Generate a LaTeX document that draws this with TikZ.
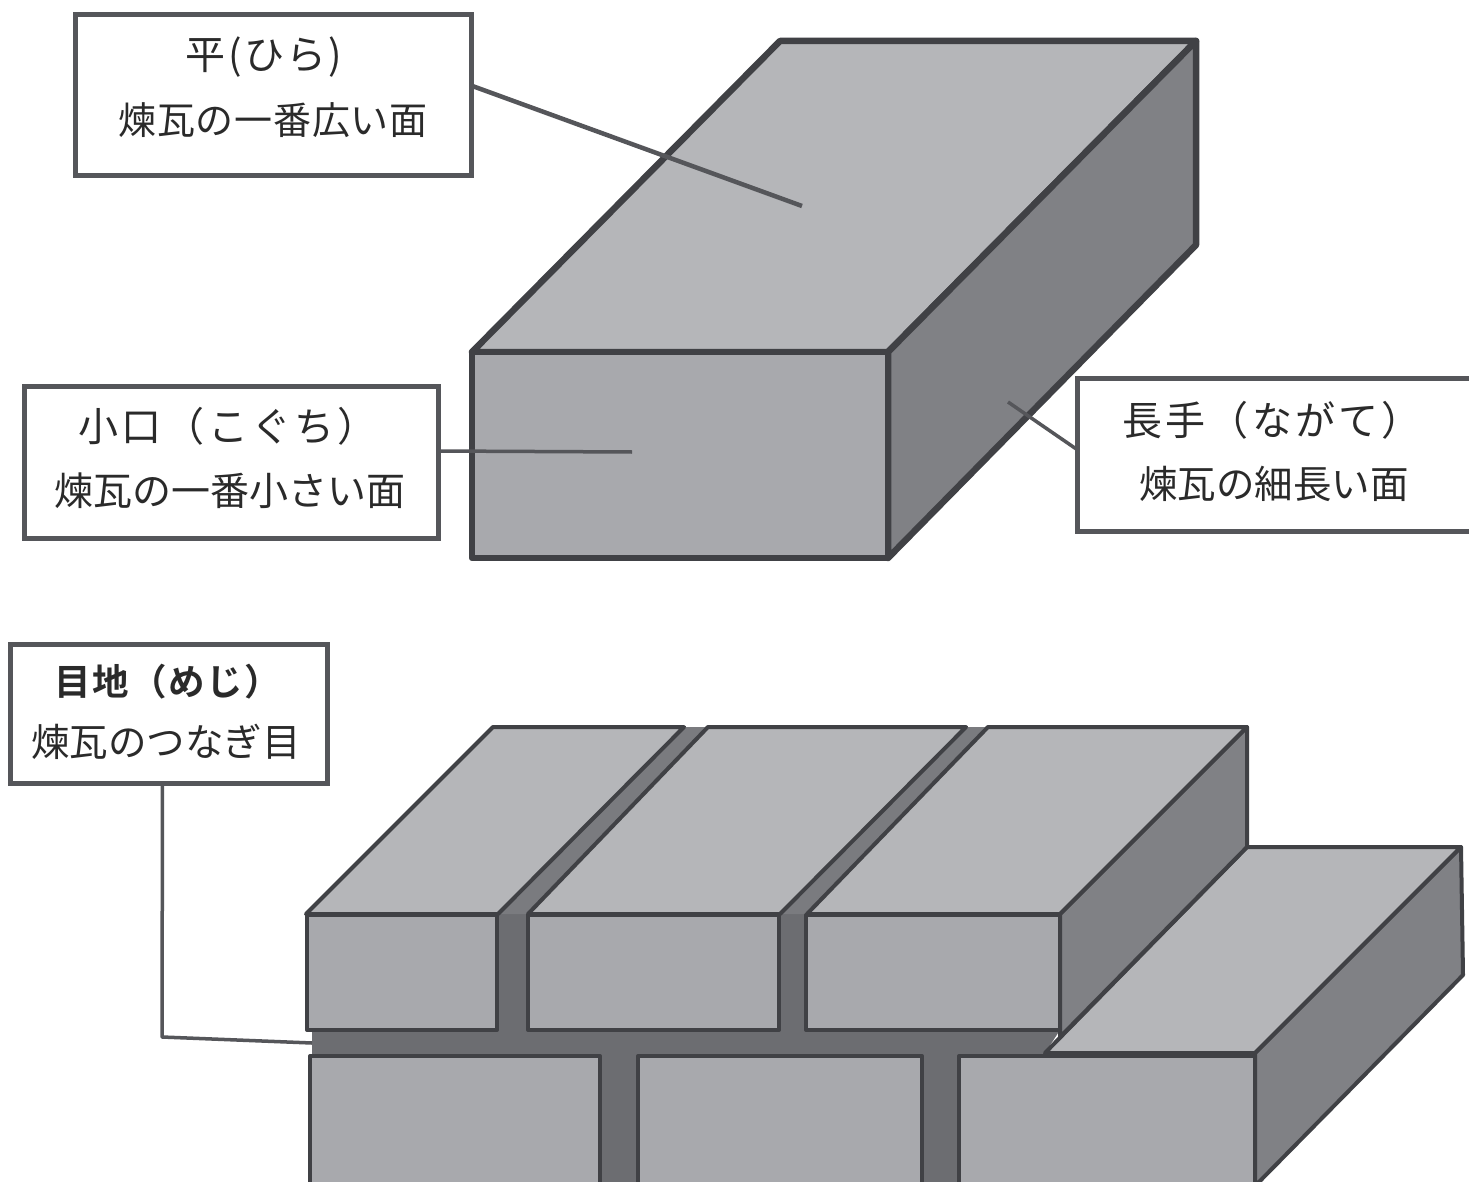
\documentclass[tikz,border=0pt]{standalone}
\usepackage{fontspec}
\setmainfont{Noto Sans CJK JP}[BoldFont={Noto Sans CJK JP Bold}]
\definecolor{topface}{HTML}{B5B6B9}
\definecolor{frontface}{HTML}{A8A9AD}
\definecolor{sideface}{HTML}{808185}
\definecolor{mortar}{HTML}{6C6D71}
\definecolor{strip}{HTML}{7A7B7F}
\definecolor{edge}{HTML}{404145}
\definecolor{boxedge}{HTML}{55565A}
\definecolor{txt}{HTML}{2A2A2A}
\tikzset{
  labelbox/.style={draw=boxedge,line width=5pt,fill=white,rectangle,inner sep=0pt,outer sep=0pt},
  labeltext/.style={text=txt,inner sep=0pt,outer sep=0pt,anchor=center},
  leader/.style={draw=boxedge,line width=4.5pt,line join=round},
  bigbrick/.style={draw=edge,line width=6.5pt,line join=round},
  smallbrick/.style={draw=edge,line width=4pt,line join=round}
}
\begin{document}
\begin{tikzpicture}[x=1pt,y=-1pt]
\useasboundingbox (0,0) rectangle (1469,1182);
\clip (0,0) rectangle (1469,1182);
\fill[white] (0,0) rectangle (1469,1182);
% upper brick
\filldraw[bigbrick,fill=topface] (472,352) -- (780,41) -- (1196,41) -- (888,352) -- cycle;
\filldraw[bigbrick,fill=sideface] (888,352) -- (1196,41) -- (1196,245) -- (888,558) -- cycle;
\filldraw[bigbrick,fill=frontface] (472,352) rectangle (888,558);
% label boxes
\node[labelbox,minimum width=396pt,minimum height=161pt] (boxhira) at (273,95.5) {};
\node[labelbox,minimum width=414pt,minimum height=152pt] (boxkoguchi) at (231,462) {};
\node[labelbox,minimum width=396pt,minimum height=153pt] (boxnagate) at (1275,454.5) {};
\node[labelbox,minimum width=317pt,minimum height=139pt] (boxmeji) at (168.5,713.5) {};
\node[labeltext,font=\fontsize{40}{44}\selectfont\addfontfeature{LetterSpace=6}] (hira1) at (264,57) {平(ひら)};
\node[labeltext,font=\fontsize{38}{42}\selectfont\addfontfeature{LetterSpace=2}] (hira2) at (273,120) {煉瓦の一番広い面};
\node[labeltext,font=\fontsize{40}{44}\selectfont\addfontfeature{LetterSpace=8}] (ko1) at (228,426) {小口（こぐち）};
\node[labeltext,font=\fontsize{39}{42}\selectfont] (ko2) at (230,491) {煉瓦の一番小さい面};
\node[labeltext,font=\fontsize{40}{44}\selectfont\addfontfeature{LetterSpace=8}] (na1) at (1272,420) {長手（ながて）};
\node[labeltext,font=\fontsize{38.5}{42}\selectfont] (na2) at (1274,484) {煉瓦の細長い面};
\node[labeltext,font=\fontsize{36.5}{40}\selectfont\bfseries\addfontfeature{LetterSpace=4}] (me1) at (168,682) {目地（めじ）};
\node[labeltext,font=\fontsize{38.5}{42}\selectfont] (me2) at (166,742) {煉瓦のつなぎ目};
% lower wall: mortar
\fill[mortar] (312,1030) rectangle (1046,1055);
\fill[mortar] (1040,1030) -- (1060,1030) -- (1045,1053) -- (1040,1053) -- cycle;
\fill[mortar] (497,914) rectangle (528,1032);
\fill[mortar] (779,914) rectangle (807,1032);
\fill[mortar] (600,1050) rectangle (638,1190);
\fill[mortar] (922,1050) rectangle (959,1190);
\fill[strip] (498,914) -- (684,727) -- (708,727) -- (528,914) -- cycle;
\fill[strip] (780,914) -- (966,727) -- (988,727) -- (807,914) -- cycle;
% lower right brick, behind
\filldraw[smallbrick,fill=sideface] (1255,1053) -- (1461,847) -- (1463,975) -- (1255,1186) -- cycle;
\filldraw[smallbrick,fill=topface] (1045,1053) -- (1247,847) -- (1461,847) -- (1255,1053) -- cycle;
% top course
\filldraw[smallbrick,fill=topface] (306,914) -- (493,727) -- (684,727) -- (498,914) -- cycle;
\filldraw[smallbrick,fill=topface] (528,914) -- (708,727) -- (966,727) -- (780,914) -- cycle;
\filldraw[smallbrick,fill=sideface] (1060,914) -- (1247,727) -- (1247,847) -- (1060,1037) -- cycle;
\filldraw[smallbrick,fill=topface] (807,914) -- (988,727) -- (1247,727) -- (1060,914) -- cycle;
\filldraw[smallbrick,fill=frontface] (307,915) rectangle (497,1030);
\filldraw[smallbrick,fill=frontface] (528,915) rectangle (779,1030);
\filldraw[smallbrick,fill=frontface] (806,915) rectangle (1060,1030);
% bottom course
\filldraw[smallbrick,fill=frontface] (310,1056) rectangle (600,1190);
\filldraw[smallbrick,fill=frontface] (638,1056) rectangle (922,1190);
\filldraw[smallbrick,fill=frontface] (959,1056) rectangle (1255,1190);
% connectors
\coordinate (hiraend) at (802,206);
\coordinate (koend) at (632,452);
\coordinate (naend) at (1008,402);
\coordinate (mejibend) at (162,1037);
\coordinate (mejiend) at (312,1043);
\coordinate (hirastart) at ([yshift=10pt]boxhira.east);
\draw[leader] (hirastart) -- (hiraend);
\draw[leader,line width=3.5pt] ([yshift=11pt]boxkoguchi.east) -- (koend);
\draw[leader,line width=3.5pt] ([yshift=5pt]boxnagate.west) -- (naend);
\draw[leader,line width=3.5pt] ([xshift=-6pt]boxmeji.south) -- (mejibend) -- (mejiend);
\end{tikzpicture}
\end{document}
